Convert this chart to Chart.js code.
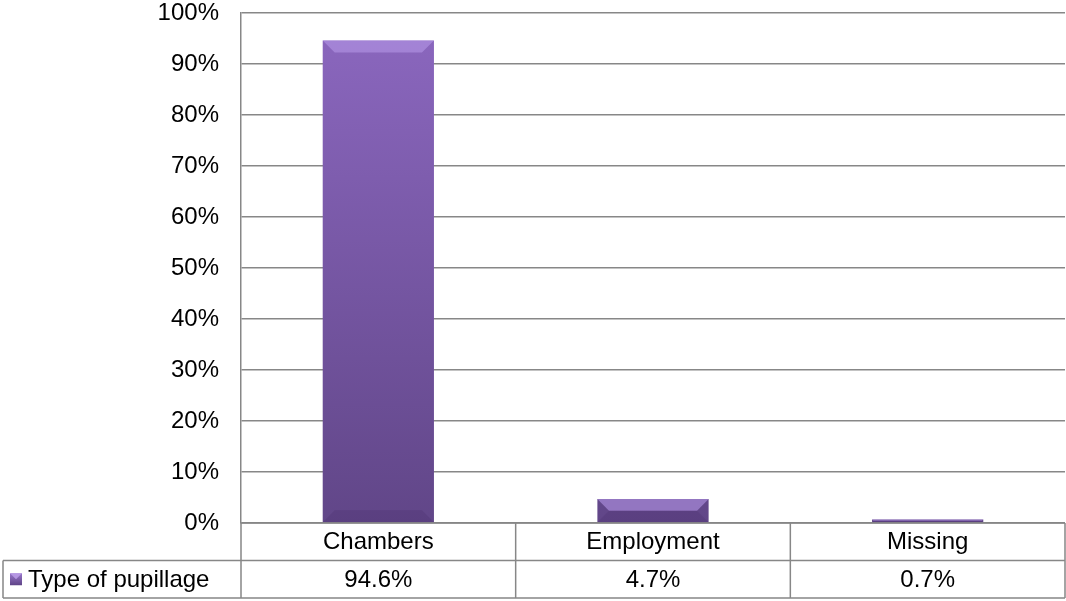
<!DOCTYPE html>
<html>
<head>
<meta charset="utf-8">
<script src="https://cdn.jsdelivr.net/npm/chart.js@4/dist/chart.umd.min.js"></script>
<style>
    html, body { margin: 0; padding: 0; background: #fff; }
    #wrap { width: 1066px; height: 601px; position: relative; }
</style>
</head>
<body>
<div id="wrap"><canvas id="chart"></canvas></div>
<script>
// Data
const categories = ['Chambers', 'Employment', 'Missing'];
const seriesName = 'Type of pupillage';
const values = [94.6, 4.7, 0.7];
const valueLabels = ['94.6%', '4.7%', '0.7%'];
const yTicks = [0, 10, 20, 30, 40, 50, 60, 70, 80, 90, 100];

const FONT = '"Liberation Sans", Arial, sans-serif';
const GRID = '#878787';
const TABLE_LEFT = 3;
const ROW_H = 37.5;

// Vertical purple gradient like the Excel bevel bars
function barFill(ctx) {
    const area = ctx.chart.chartArea;
    if (!area) return '#7a5aab';
    const g = ctx.chart.ctx.createLinearGradient(0, area.top, 0, area.bottom);
    g.addColorStop(0, '#8c68c0');
    g.addColorStop(1, '#614688');
    return g;
}

// Bevel highlight on each bar top
const bevelPlugin = {
    id: 'bevel',
    afterDatasetsDraw(chart) {
        const ctx = chart.ctx;
        chart.getDatasetMeta(0).data.forEach(bar => {
            const { x, y, base, width } = bar.getProps(['x', 'y', 'base', 'width'], true);
            const l = x - width / 2, r = x + width / 2;
            const h = Math.min(12, (base - y) / 2);
            ctx.save();
            ctx.fillStyle = 'rgba(180,150,230,0.6)';
            ctx.beginPath();
            ctx.moveTo(l, y); ctx.lineTo(r, y); ctx.lineTo(r - h, y + h); ctx.lineTo(l + h, y + h);
            ctx.closePath(); ctx.fill();
            ctx.fillStyle = 'rgba(60,35,95,0.18)';
            ctx.beginPath();
            ctx.moveTo(l, base); ctx.lineTo(r, base); ctx.lineTo(r - h, base - h); ctx.lineTo(l + h, base - h);
            ctx.closePath(); ctx.fill();
            ctx.restore();
        });
    }
};

// Data table under the plot
const tablePlugin = {
    id: 'dataTable',
    afterDraw(chart) {
        const ctx = chart.ctx;
        const xs = chart.scales.x;
        const area = chart.chartArea;
        const top = area.bottom;
        const mid = top + ROW_H;
        const bottom = mid + ROW_H;
        const step = (area.right - area.left) / categories.length;

        ctx.save();
        ctx.strokeStyle = GRID;
        ctx.lineWidth = 1.5;
        ctx.beginPath();
        ctx.moveTo(area.left, top); ctx.lineTo(area.right, top);
        ctx.moveTo(TABLE_LEFT, mid); ctx.lineTo(area.right, mid);
        ctx.moveTo(TABLE_LEFT, bottom); ctx.lineTo(area.right, bottom);
        ctx.moveTo(TABLE_LEFT, mid); ctx.lineTo(TABLE_LEFT, bottom);
        for (let i = 0; i <= categories.length; i++) {
            const x = area.left + step * i;
            ctx.moveTo(x, top); ctx.lineTo(x, bottom);
        }
        ctx.stroke();

        ctx.fillStyle = '#000';
        ctx.font = '24px ' + FONT;
        ctx.textAlign = 'center';
        ctx.textBaseline = 'middle';
        categories.forEach((c, i) => {
            const cx = xs.getPixelForValue(i);
            ctx.fillText(c, cx, top + ROW_H / 2 + 1);
            ctx.fillText(valueLabels[i], cx, mid + ROW_H / 2 + 1);
        });

        // legend key
        const ky = mid + ROW_H / 2;
        const g = ctx.createLinearGradient(0, ky - 6, 0, ky + 6);
        g.addColorStop(0, '#9a78cc');
        g.addColorStop(1, '#5e4386');
        ctx.fillStyle = g;
        ctx.fillRect(10, ky - 6, 12, 12);
        ctx.fillStyle = 'rgba(190,160,235,0.8)';
        ctx.beginPath();
        ctx.moveTo(10, ky - 6); ctx.lineTo(22, ky - 6); ctx.lineTo(16, ky); ctx.closePath(); ctx.fill();
        ctx.fillStyle = '#000';
        ctx.textAlign = 'left';
        ctx.fillText(seriesName, 28, ky + 1);
        ctx.restore();
    }
};

new Chart(document.getElementById('chart'), {
    type: 'bar',
    data: {
        labels: categories,
        datasets: [{
            label: seriesName,
            data: values,
            backgroundColor: barFill,
            borderWidth: 0,
            categoryPercentage: 1,
            barPercentage: 0.405
        }]
    },
    options: {
        responsive: true,
        maintainAspectRatio: false,
        animation: false,
        layout: { padding: { top: 13, right: 1, bottom: 78, left: 0 } },
        plugins: { legend: { display: false }, tooltip: { enabled: false } },
        scales: {
            x: { display: false },
            y: {
                min: 0,
                max: 100,
                afterBuildTicks: s => { s.ticks = yTicks.map(v => ({ value: v })); },
                afterFit: s => { s.width = 241; s.paddingTop = 0; s.paddingBottom = 0; },
                ticks: {
                    color: '#000',
                    font: { family: FONT, size: 24 },
                    padding: 22,
                    callback: v => v + '%'
                },
                grid: { color: GRID, lineWidth: 1.5, drawTicks: false },
                border: { color: GRID, width: 1.5 }
            }
        }
    },
    plugins: [bevelPlugin, tablePlugin]
});
</script>
</body>
</html>
